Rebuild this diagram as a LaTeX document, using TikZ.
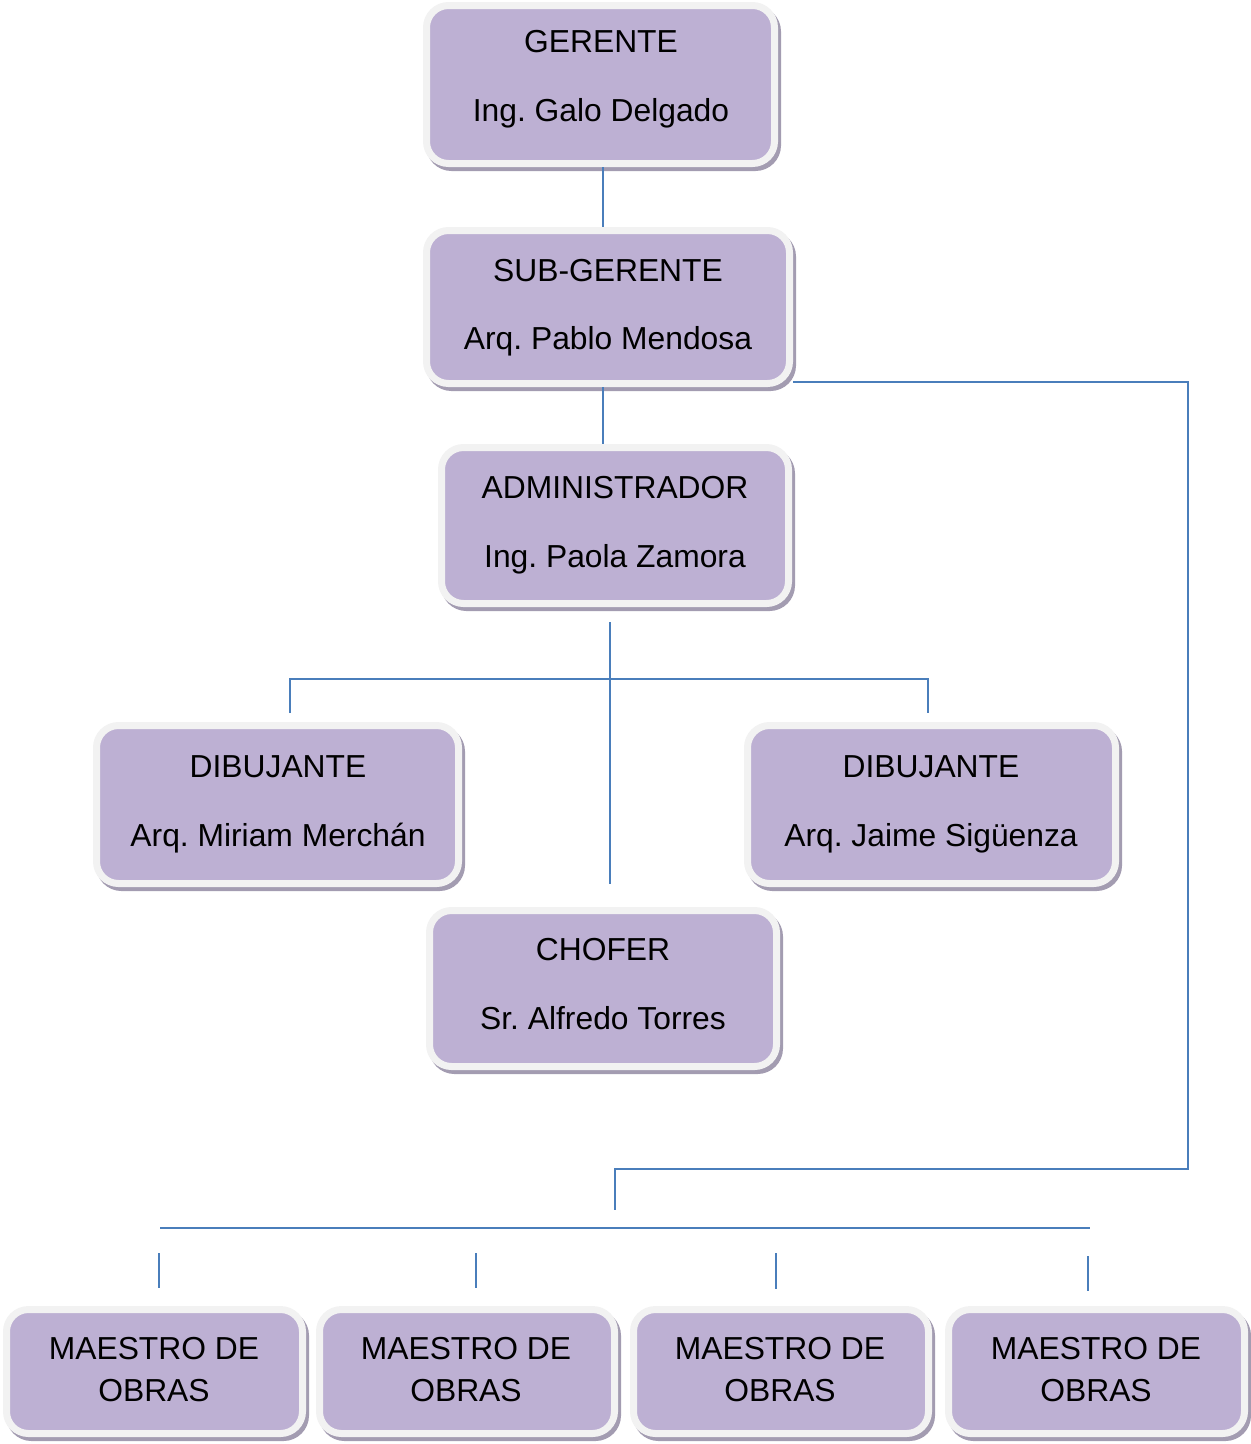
\documentclass[tikz,border=0pt]{standalone}
\usepackage{fontspec}
\setmainfont{Liberation Sans}
\frenchspacing
\definecolor{boxfill}{HTML}{BDB0D3}
\definecolor{boxrim}{HTML}{F2F2F2}
\definecolor{boxshade}{HTML}{A39CB1}
\definecolor{wire}{HTML}{4A7EBB}
\begin{document}
\begin{tikzpicture}[x=1pt,y=-1pt,
  orgbox/.style={rectangle, draw=boxrim, line width=7pt, fill=boxfill,
    rounded corners=22pt, inner sep=0pt,
    preaction={draw=boxshade, fill=boxshade, line width=7pt,
      transform canvas={shift={(3pt,-4pt)}}}},
  lbl/.style={anchor=base, inner sep=0pt, text=black,
    font=\fontsize{31.8}{38}\selectfont},
  wireline/.style={draw=wire, line width=2pt}]
\useasboundingbox (0,0) rectangle (1251,1444);

% boxes
\node[orgbox, minimum width=348pt, minimum height=158pt] (ger) at (600.5,84.5) {};
\node[orgbox, minimum width=363pt, minimum height=153pt] (sub) at (608,307) {};
\node[orgbox, minimum width=347pt, minimum height=156pt] (adm) at (615,525.5) {};
\node[orgbox, minimum width=362pt, minimum height=158pt] (dibA) at (277.5,804.5) {};
\node[orgbox, minimum width=368pt, minimum height=158pt] (dibB) at (931.5,804.5) {};
\node[orgbox, minimum width=347pt, minimum height=156pt] (cho) at (603,988.5) {};
\node[orgbox, minimum width=296pt, minimum height=124pt] (mA) at (154.5,1371.5) {};
\node[orgbox, minimum width=295pt, minimum height=124pt] (mB) at (467,1371.5) {};
\node[orgbox, minimum width=295pt, minimum height=124pt] (mC) at (781,1371.5) {};
\node[orgbox, minimum width=296pt, minimum height=124pt] (mD) at (1096.5,1371.5) {};

% texts
\node[lbl] (gerT) at (601,52) {GERENTE};
\node[lbl] (gerN) at (601,121) {Ing. Galo Delgado};
\node[lbl] (subT) at (608,281) {SUB-GERENTE};
\node[lbl] (subN) at (608,349) {Arq. Pablo Mendosa};
\node[lbl] (admT) at (615,498) {ADMINISTRADOR};
\node[lbl] (admN) at (615,567) {Ing. Paola Zamora};
\node[lbl] (dibAT) at (278,777) {DIBUJANTE};
\node[lbl] (dibAN) at (278,846) {Arq. Miriam Merchán};
\node[lbl] (dibBT) at (931,777) {DIBUJANTE};
\node[lbl] (dibBN) at (931,846) {Arq. Jaime Sigüenza};
\node[lbl] (choT) at (603,960) {CHOFER};
\node[lbl] (choN) at (603,1029) {Sr. Alfredo Torres};
\foreach \n/\x in {mA/154, mB/466, mC/780, mD/1096}{
  \node[lbl] (\n T) at (\x,1359) {MAESTRO DE};
  \node[lbl] (\n N) at (\x,1401) {OBRAS};
}

% junction points of the wiring
\coordinate (spine) at (603,0);
\coordinate (r1) at (1188,382);
\coordinate (r2) at (1188,1169);
\coordinate (r3) at (615,1169);
\coordinate (r4) at (615,1210);
\coordinate (busL) at (160,1228);
\coordinate (busR) at (1090,1228);
\coordinate (aTop) at (610,622);
\coordinate (aBot) at (610,884);
\coordinate (hL) at (290,679);
\coordinate (hR) at (928,679);
\coordinate (hLd) at (290,713);
\coordinate (hRd) at (928,713);

% connectors
\draw[wireline] (ger.south -| spine) -- (sub.north -| spine);
\draw[wireline] (sub.south -| spine) -- (adm.north -| spine);
\draw[wireline] (sub.east |- r1) -- (r1) -- (r2) -- (r3) -- (r4);
\draw[wireline] (busL) -- (busR);
\draw[wireline] (159,1253) -- (159,1288);
\draw[wireline] (476,1253) -- (476,1288);
\draw[wireline] (776,1253) -- (776,1289);
\draw[wireline] (1088,1256) -- (1088,1291);
\draw[wireline] (aTop) -- (aBot);
\draw[wireline] (hLd) -- (hL) -- (hR) -- (hRd);
\end{tikzpicture}
\end{document}
